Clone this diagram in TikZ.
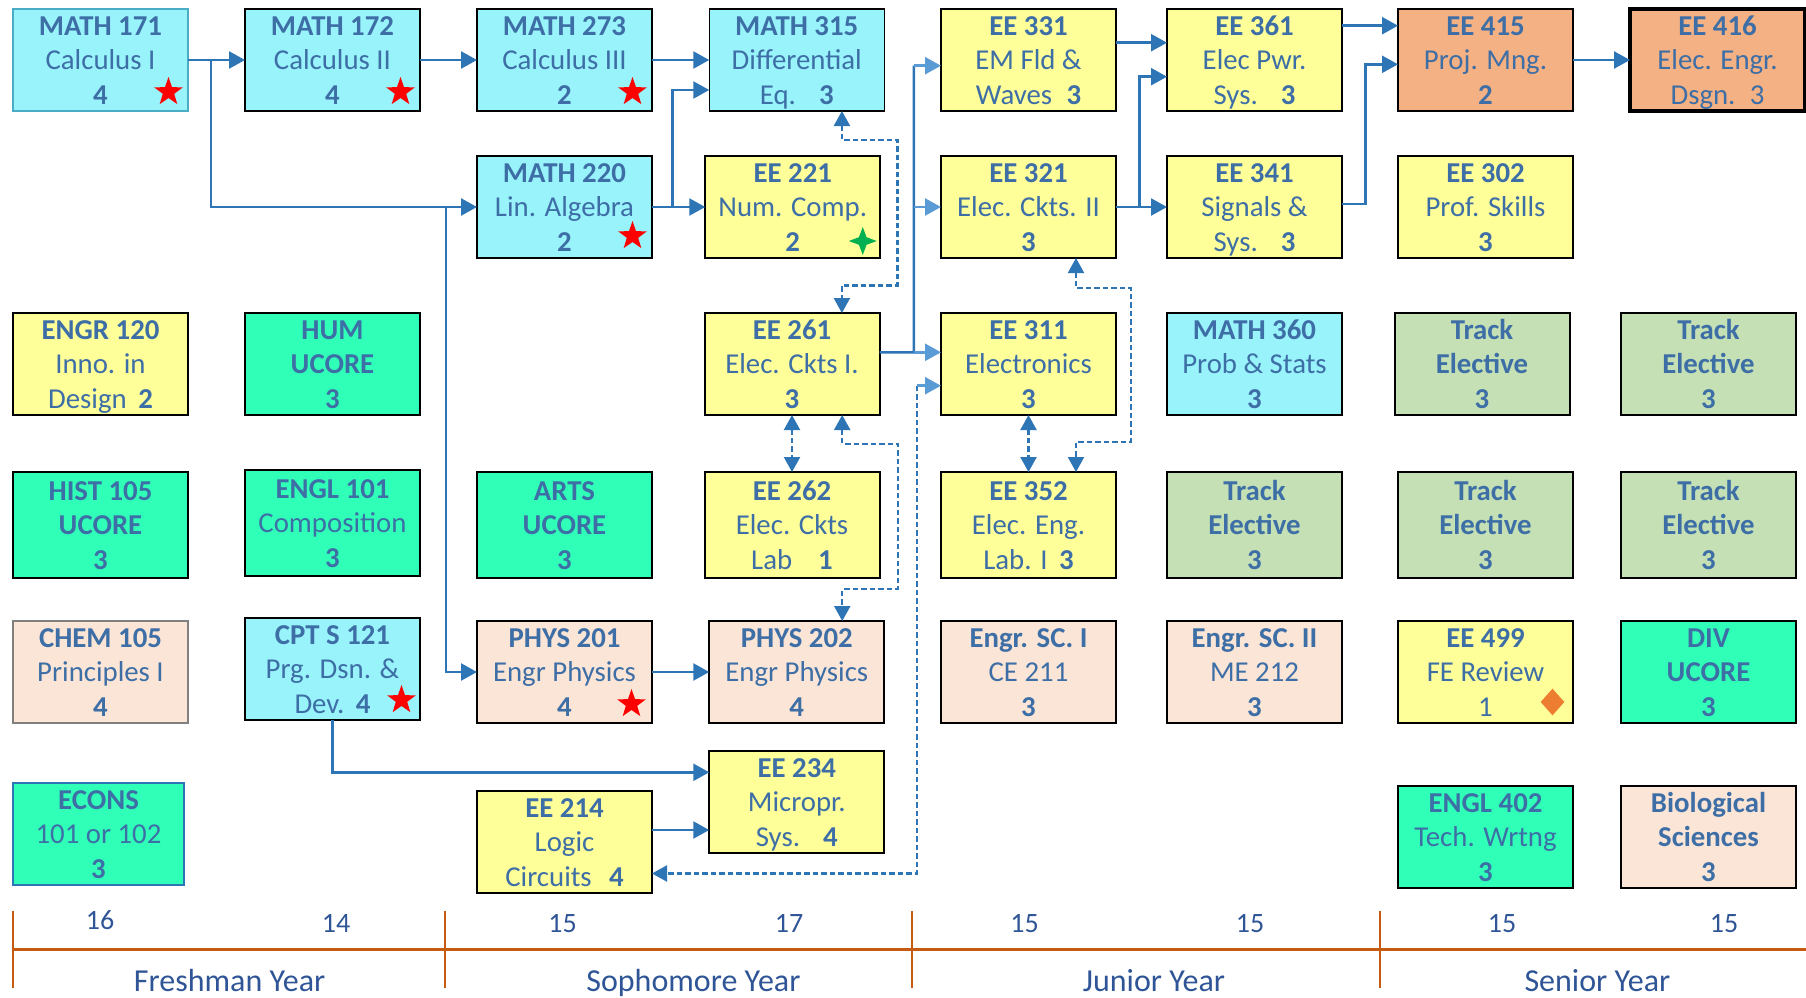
\documentclass[tikz,border=0pt]{standalone}
\usepackage{fontspec}
\setmainfont{Carlito}
\usetikzlibrary{arrows.meta,calc,shapes.geometric}
\definecolor{cyanc}{RGB}{153,243,250}
\definecolor{yellowc}{RGB}{255,255,153}
\definecolor{mintc}{RGB}{48,255,184}
\definecolor{peachc}{RGB}{251,229,214}
\definecolor{orangec}{RGB}{244,177,131}
\definecolor{trackc}{RGB}{197,224,180}
\definecolor{txtc}{RGB}{61,110,166}
\definecolor{darktxt}{RGB}{47,85,151}
\definecolor{linkblue}{RGB}{46,117,182}
\definecolor{lightblue}{RGB}{91,155,213}
\definecolor{timec}{RGB}{197,90,17}
\definecolor{tealborder}{RGB}{75,172,198}
\definecolor{greenstar}{RGB}{0,176,80}
\definecolor{diamondc}{RGB}{237,125,49}
\newcommand\crsline[2]{\smash{\makebox[0pt]{\raisebox{#1}{#2}}}}
\newcommand\crs[3]{\crsline{12.25pt}{#1}\crsline{-4.75pt}{#2}\crsline{-22.25pt}{#3}}
\tikzset{
  course/.style={draw=black, line width=1pt, minimum width=87.5pt, minimum height=51pt,
    inner sep=0pt, outer sep=0pt, text=txtc, font=\fontsize{14.4pt}{17pt}\selectfont},
  tall/.style={minimum height=53pt},
  cy/.style={course, fill=cyanc},
  ye/.style={course, fill=yellowc},
  mi/.style={course, fill=mintc},
  pe/.style={course, fill=peachc},
  orc/.style={course, fill=orangec},
  tr/.style={course, fill=trackc},
  plain/.style={draw=linkblue, line width=1.25pt},
  conn/.style={plain, -{Triangle[length=8pt,width=8.5pt]}},
  lconn/.style={draw=lightblue, line width=1.25pt, -{Triangle[length=8pt,width=8.5pt]}},
  dl/.style={draw=linkblue, line width=1.1pt, dash pattern=on 2.75pt off 1.5pt},
  dboth/.style={dl, {Triangle[length=7.5pt,width=8pt]}-{Triangle[length=7.5pt,width=8pt]}},
  dend/.style={dl, -{Triangle[length=7.5pt,width=8pt]}},
  redstar/.style={star, star points=5, star point ratio=2.5, minimum size=15pt, inner sep=0pt, fill=red, draw=none},
  semnum/.style={anchor=base, text=darktxt, font=\fontsize{14pt}{16pt}\selectfont},
  yearlab/.style={anchor=base, text=darktxt, font=\fontsize{16pt}{18pt}\selectfont},
  timeline/.style={draw=timec, line width=1.5pt},
  tick/.style={draw=timec, line width=1pt},
}
\begin{document}
\begin{tikzpicture}[x=0.5pt,y=-0.5pt]
\useasboundingbox (0,0) rectangle (1806,997);

% Row 1
\node[cy, draw=tealborder] (m171) at (100.5,60) {\crs{\textbf{MATH 171}}{Calculus I}{\textbf{4}}};
\node[cy, line width=1.4pt] (m172) at (332.5,60) {\crs{\textbf{MATH 172}}{Calculus II}{\textbf{4}}};
\node[cy] (m273) at (564.5,60) {\crs{\textbf{MATH 273}}{Calculus III}{\textbf{2}}};
\node[cy, line width=0.75pt] (m315) at (796.75,60) {\crs{\textbf{MATH 315}}{Differential}{Eq.\hspace{0.8em}\textbf{3}}};
\node[ye] (e331) at (1028.5,60) {\crs{\textbf{EE 331}}{EM Fld \&}{Waves\hspace{0.5em}\textbf{3}}};
\node[ye] (e361) at (1254.5,60) {\crs{\textbf{EE 361}}{Elec Pwr.}{Sys.\hspace{0.8em}\textbf{3}}};
\node[orc] (e415) at (1485.5,60) {\crs{\textbf{EE 415}}{Proj. Mng.}{\textbf{2}}};
\node[orc, line width=1.6pt] (e416) at (1717.5,60) {\crs{\textbf{EE 416}}{Elec. Engr.}{Dsgn.\hspace{0.5em}3}};

% Row 2
\node[cy] (m220) at (564.5,207) {\crs{\textbf{MATH 220}}{Lin. Algebra}{\textbf{2}}};
\node[ye] (e221) at (792.75,207) {\crs{\textbf{EE 221}}{Num. Comp.}{\textbf{2}}};
\node[ye] (e321) at (1028.5,207) {\crs{\textbf{EE 321}}{Elec. Ckts. II}{\textbf{3}}};
\node[ye] (e341) at (1254.5,207) {\crs{\textbf{EE 341}}{Signals \&}{Sys.\hspace{0.8em}\textbf{3}}};
\node[ye] (e302) at (1485.5,207) {\crs{\textbf{EE 302}}{Prof. Skills}{\textbf{3}}};

% Row 3
\node[ye] (engr120) at (100.5,364) {\crs{\textbf{ENGR 120}}{Inno. in}{Design\hspace{0.4em}\textbf{2}}};
\node[mi] (hum) at (332.5,364) {\crs{\textbf{HUM}}{\textbf{UCORE}}{\textbf{3}}};
\node[ye] (e261) at (792,364) {\crs{\textbf{EE 261}}{Elec. Ckts I.}{\textbf{3}}};
\node[ye] (e311) at (1028.5,364) {\crs{\textbf{EE 311}}{Electronics}{\textbf{3}}};
\node[cy] (m360) at (1254.5,364) {\crs{\textbf{MATH 360}}{Prob \& Stats}{\textbf{3}}};
\node[tr] (tr1) at (1482,364) {\crs{\textbf{Track}}{\textbf{Elective}}{\textbf{3}}};
\node[tr] (tr2) at (1708.5,364) {\crs{\textbf{Track}}{\textbf{Elective}}{\textbf{3}}};

% Row 4
\node[mi, tall] (hist105) at (100.5,525) {\crs{\textbf{HIST 105}}{\textbf{UCORE}}{\textbf{3}}};
\node[mi, tall] (engl101) at (332.5,523) {\crs{\textbf{ENGL 101}}{Composition}{\textbf{3}}};
\node[mi, tall] (arts) at (564.5,525) {\crs{\textbf{ARTS}}{\textbf{UCORE}}{\textbf{3}}};
\node[ye, tall] (e262) at (792,525) {\crs{\textbf{EE 262}}{Elec. Ckts}{Lab\hspace{0.9em}\textbf{1}}};
\node[ye, tall] (e352) at (1028.5,525) {\crs{\textbf{EE 352}}{Elec. Eng.}{Lab. I\hspace{0.4em}\textbf{3}}};
\node[tr, tall] (tr3) at (1254.5,525) {\crs{\textbf{Track}}{\textbf{Elective}}{\textbf{3}}};
\node[tr, tall] (tr4) at (1485.5,525) {\crs{\textbf{Track}}{\textbf{Elective}}{\textbf{3}}};
\node[tr, tall] (tr5) at (1708.5,525) {\crs{\textbf{Track}}{\textbf{Elective}}{\textbf{3}}};

% Row 5
\node[pe, draw=gray] (chem105) at (100.5,672) {\crs{\textbf{CHEM 105}}{Principles I}{\textbf{4}}};
\node[cy] (cpts121) at (332.5,669) {\crs{\textbf{CPT S 121}}{Prg. Dsn. \&}{Dev.\hspace{0.4em}\textbf{4}}};
\node[pe] (phys201) at (564.5,672) {\crs{\textbf{PHYS 201}}{Engr Physics}{\textbf{4}}};
\node[pe] (phys202) at (796.75,672) {\crs{\textbf{PHYS 202}}{Engr Physics}{\textbf{4}}};
\node[pe] (esc1) at (1028.5,672) {\crs{\textbf{Engr. SC. I}}{CE 211}{\textbf{3}}};
\node[pe] (esc2) at (1254.5,672) {\crs{\textbf{Engr. SC. II}}{ME 212}{\textbf{3}}};
\node[ye] (e499) at (1485.5,672) {\crs{\textbf{EE 499}}{FE Review}{1}};
\node[mi] (div) at (1708.5,672) {\crs{\textbf{DIV}}{\textbf{UCORE}}{\textbf{3}}};

% Row 6
\node[mi, draw=linkblue, minimum width=85.5pt] (econs) at (98.5,834) {\crs{\textbf{ECONS}}{101 or 102}{\textbf{3}}};
\node[ye] (e214) at (564.5,841.5) {\crs{\textbf{EE 214}}{Logic}{Circuits\hspace{0.6em}\textbf{4}}};
\node[ye] (e234) at (796.75,801.5) {\crs{\textbf{EE 234}}{Micropr.}{Sys.\hspace{0.8em}\textbf{4}}};
\node[mi] (engl402) at (1485.5,837) {\crs{\textbf{ENGL 402}}{Tech. Wrtng}{\textbf{3}}};
\node[pe] (bio) at (1708.5,837) {\crs{\textbf{Biological}}{\textbf{Sciences}}{\textbf{3}}};

% Markers
\node[redstar] (s1) at ($(m171.center)+(68,32)$) {};
\node[redstar] (s2) at ($(m172.center)+(68,32)$) {};
\node[redstar] (s3) at ($(m273.center)+(68,32)$) {};
\node[redstar] (s4) at ($(m220.center)+(68,29)$) {};
\node[redstar] (s5) at ($(cpts121.center)+(69,31)$) {};
\node[redstar] (s6) at ($(phys201.center)+(67,32)$) {};
\node[star, star points=4, star point ratio=2.6, minimum size=14pt, inner sep=0pt, fill=greenstar] (s7) at ($(e221.center)+(70,34)$) {};
\node[diamond, minimum width=12pt, minimum height=13.5pt, inner sep=0pt, fill=diamondc] (s8) at ($(e499.center)+(67,30)$) {};

% Solid connectors
\draw[conn] (m171.east) -- (m172.west);
\draw[conn] (m171.east) -- ++(23,0) |- (m220.west);
\coordinate (j1) at ($(m220.west)+(-31,0)$);
\draw[conn] (j1) |- (phys201.west);
\draw[conn] (m172.east) -- (m273.west);
\draw[conn] (m273.east) -- (m315.west);
\draw[conn] (m220.east) -- (e221.west);
\draw[conn] (m220.east) -- ++(20.7,0) |- ($(m315.west)+(0,30)$);
\coordinate (t0) at ($(e261.east)+(0,-11.7)$);
\coordinate (t1) at ($(t0)+(34.3,0)$);
\coordinate (t2) at ($(e331.west)+(-27.2,5.7)$);
\draw[plain] (t0) -- (t1) -- (t2);
\draw[lconn] (t2) -- (t2 -| e331.west);
\draw[lconn] (t1 |- e321.west) -- (e321.west);
\draw[lconn] (t1) -- (t1 -| e311.west);
\draw[conn] ($(e331.east)+(0,-17.3)$) -- ($(e361.west)+(0,-17.3)$);
\draw[conn] (e321.east) -- (e341.west);
\draw[conn] (e321.east) -- ++(23.6,0) |- ($(e361.west)+(0,16.7)$);
\draw[conn] ($(e361.east)+(0,-34.3)$) -- ($(e415.west)+(0,-34.3)$);
\draw[conn] ($(e341.east)+(0,-3)$) -- ++(23.4,0) |- ($(e415.west)+(0,4.3)$);
\draw[conn] (e415.east) -- (e416.west);
\draw[conn] (phys201.east) -- (phys202.west);
\draw[conn] (cpts121.south) |- ($(e234.west)+(0,-29.2)$);
\draw[conn] ($(e214.east)+(0,-11.5)$) -- ($(e234.west)+(0,28.5)$);

% Dashed connectors
\draw[dboth] ($(m315.south)+(45.2,0)$) |- ($(m315.south)+(100.7,29)$) |- ($(e261.north)+(49.9,-27.6)$) -- ($(e261.north)+(49.9,0)$);
\draw[dboth] ($(e261.south)+(50.2,0)$) |- ($(e261.south)+(105.7,28.6)$) |- ($(phys202.north)+(45.5,-31.7)$) -- ($(phys202.north)+(45.5,0)$);
\draw[dboth] (e261.south) -- (e262.north);
\draw[dboth] (e311.south) -- (e352.north);
\draw[dboth] ($(e321.south)+(47.5,0)$) |- ($(e321.south)+(102.5,30)$) |- ($(e352.north)+(47.5,-29.7)$) -- ($(e352.north)+(47.5,0)$);
\coordinate (c23) at ($(e311.west)+(-24.1,21.7)$);
\draw[dend] (c23) |- ($(e214.east)+(0,32)$);
\draw[lconn] (c23) -- (c23 -| e311.west);

% Timeline
\draw[timeline] (12.6,949.3) -- (1806,949.3);
\foreach \tx in {12.6,444.9,912,1380} \draw[tick] (\tx,911) -- (\tx,988);
\node[semnum] (n1) at (100,929.5) {16};
\node[semnum] (n2) at (336,932) {14};
\node[semnum] (n3) at (562.5,932) {15};
\node[semnum] (n4) at (789,932) {17};
\node[semnum] (n5) at (1024.5,932) {15};
\node[semnum] (n6) at (1250,932) {15};
\node[semnum] (n7) at (1502,932) {15};
\node[semnum] (n8) at (1724,932) {15};
\node[yearlab] (y1) at (229.6,991.5) {Freshman Year};
\node[yearlab] (y2) at (693.4,991.5) {Sophomore Year};
\node[yearlab] (y3) at (1154,991.5) {Junior Year};
\node[yearlab] (y4) at (1597.4,991.5) {Senior Year};
\end{tikzpicture}
\end{document}
